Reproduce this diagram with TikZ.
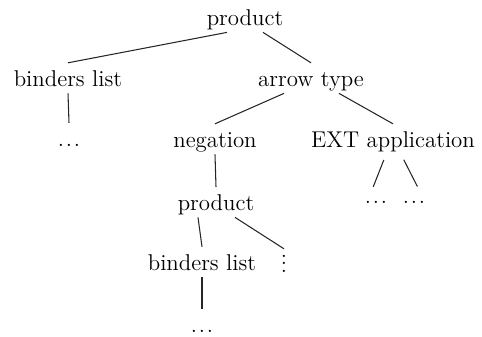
\documentclass[tikz,border=0pt]{standalone}
\usepackage{tikz}
\usetikzlibrary{calc}
\tikzset{
  term/.style={anchor=base, inner xsep=1pt, inner ysep=4pt,
    text height=9pt, text depth=0pt, font=\fontsize{13}{15.6}\selectfont},
  branch/.style={line width=0.6pt, black!85},
  sbranch/.style={branch, shorten <=1.2mm, shorten >=-1.5mm}
}
\newcommand{\gapdots}{.\kern1pt.\kern1pt.}

\begin{document}
\begin{tikzpicture}[x=0.2mm, y=0.2mm]
  \useasboundingbox (0,0) rectangle (482,336);

  % root and first level
  \node[term] (top) at (245,311) {product};
  \node[term] (bl) at (68,250) {binders list};
  \node[term] (arr) at (311,250) {arrow type};

  % second level
  \node[term] (bldots) at (69,190) {\gapdots};
  \node[term] (neg) at (215,189) {negation};
  \node[term] (ext) at (393,189) {EXT application};

  % third level
  \node[term] (prod) at (216,126) {product};
  \node[term] (extl) at (376,133) {\gapdots};
  \node[term] (extr) at (414,133) {\gapdots};

  % fourth level
  \node[term] (bl2) at (202,66) {binders list};
  \node[term] (vd) at (284,64) {$\vdots$};
  \node[term] (bl2dots) at (202,4) {\gapdots};

  % branches
  \draw[branch] ($(top.south)+(-18,0)$) -- (bl.north);
  \draw[branch] ($(top.south)+(18,0)$) -- (arr.north);
  \draw[branch] (bl.south) -- (bldots.north);
  \draw[branch] ($(arr.south)+(-27,0)$) -- (neg.north);
  \draw[branch] ($(arr.south)+(28,0)$) -- (ext.north);
  \draw[branch] (neg.south) -- (prod.north);
  \draw[sbranch] ($(ext.south)+(-7,0)$) -- (extl.north);
  \draw[sbranch] ($(ext.south)+(8,0)$) -- (extr.north);
  \draw[branch] ($(prod.south)+(-18,0)$) -- (bl2.north);
  \draw[branch] ($(prod.south)+(19,0)$) -- (vd.north);
  \draw[branch] (bl2.south) -- (bl2dots.north);
\end{tikzpicture}
\end{document}
